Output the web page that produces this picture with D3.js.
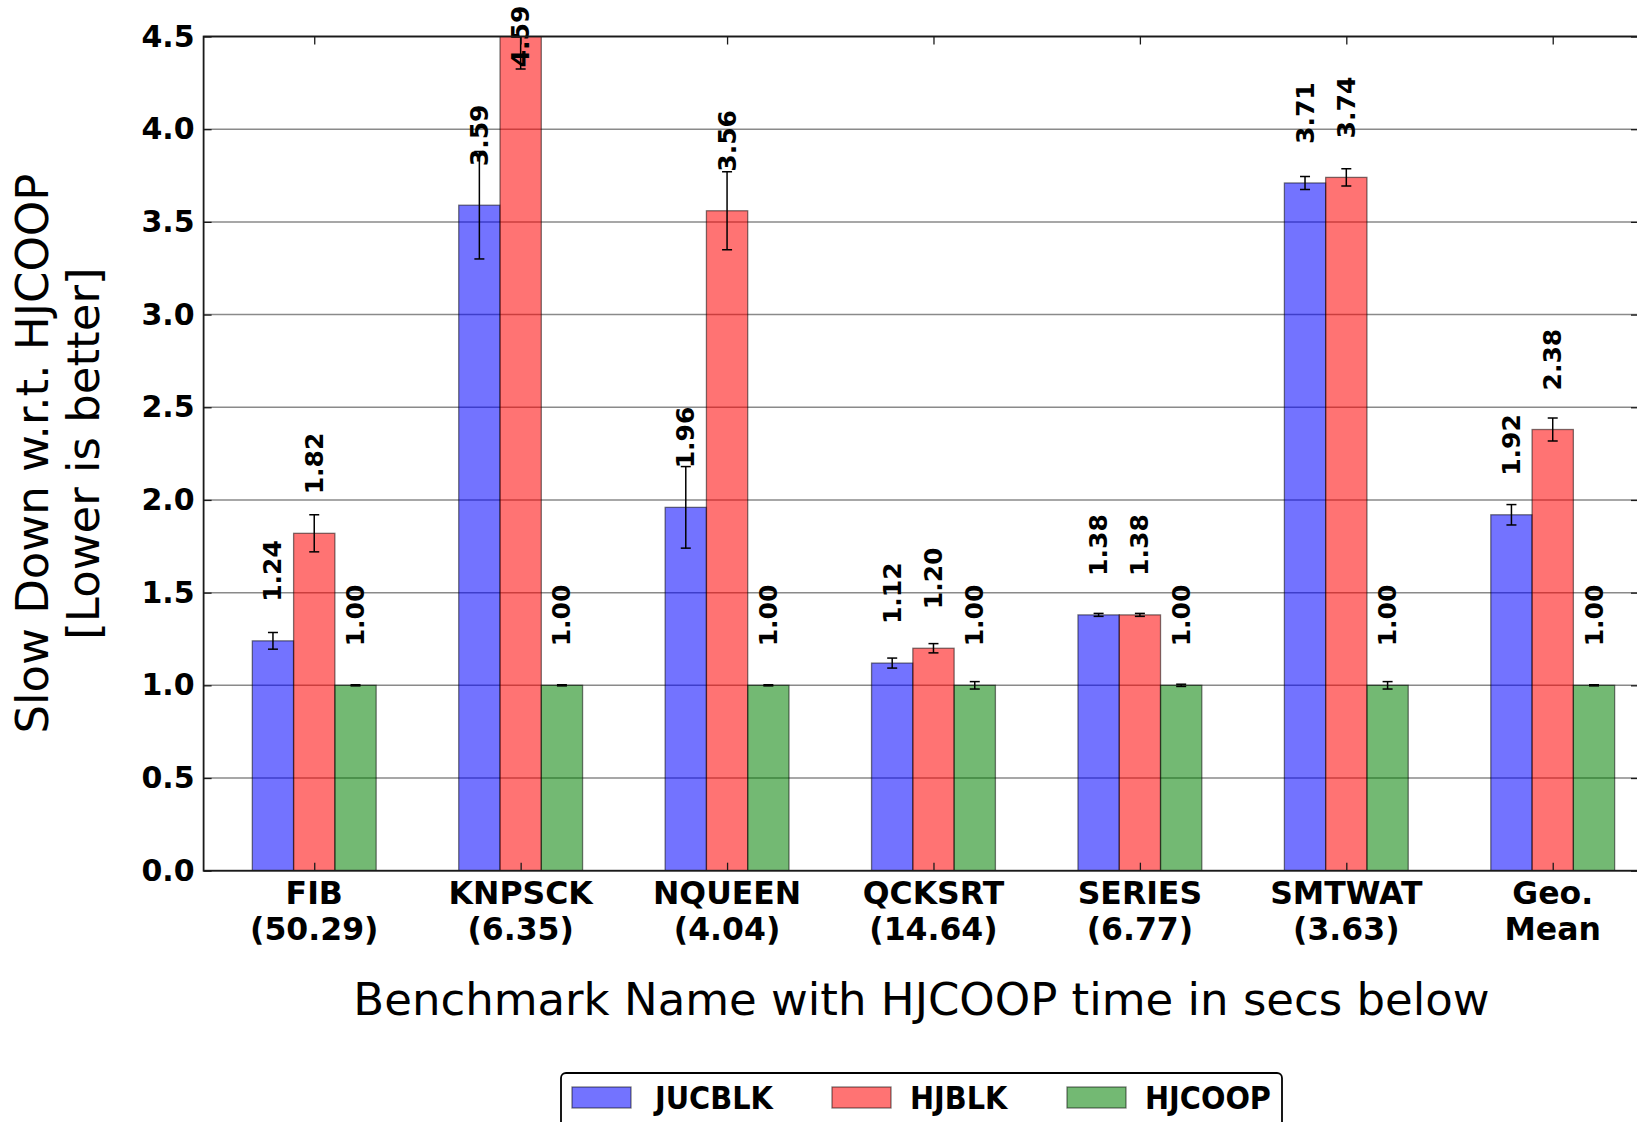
<!DOCTYPE html>
<html><head><meta charset="utf-8">
<script src="https://cdn.jsdelivr.net/npm/d3@7"></script>
<style>body{margin:0;background:#fff}svg{display:block}</style>
</head><body>
<script>
const categories = ["FIB","KNPSCK","NQUEEN","QCKSRT","SERIES","SMTWAT","Geo."];
const subLabels = ["(50.29)","(6.35)","(4.04)","(14.64)","(6.77)","(3.63)","Mean"];
const seriesNames = ["JUCBLK","HJBLK","HJCOOP"];
const jucblk = [1.24,3.59,1.96,1.12,1.38,3.71,1.92];
const hjblk  = [1.82,4.59,3.56,1.20,1.38,3.74,2.38];
const hjcoop = [1.00,1.00,1.00,1.00,1.00,1.00,1.00];
const jucblkErr = [0.045,0.29,0.22,0.027,0.008,0.035,0.055];
const hjblkErr  = [0.10,0.265,0.21,0.025,0.008,0.047,0.062];
const hjcoopErr = [0.003,0.003,0.003,0.02,0.006,0.02,0.003];
const yTicks = [0,0.5,1.0,1.5,2.0,2.5,3.0,3.5,4.0,4.5];
const xLabel = "Benchmark Name with HJCOOP time in secs below";
const yLabel1 = "Slow Down w.r.t. HJCOOP";
const yLabel2 = "[Lower is better]";

(function () {
const W = 1637, H = 1122;
const pL = 203.6, pR = 1639, pT = 36.5, pB = 870.7;
const barW = 0.2;
const colors = ["#0000ff","#ff0000","#008000"];
const values = [jucblk, hjblk, hjcoop];
const errs = [jucblkErr, hjblkErr, hjcoopErr];

const svg = d3.select("body").append("svg").attr("width", W).attr("height", H)
  .style("font-family", "'DejaVu Sans', sans-serif");

const x = d3.scaleLinear().domain([-0.536, 6.418]).range([pL, pR]);
const y = d3.scaleLinear().domain([0, 4.5]).range([pB, pT]);

svg.append("defs").append("clipPath").attr("id","plotclip")
  .append("rect").attr("x", pL).attr("y", pT).attr("width", pR-pL).attr("height", pB-pT);

// grid
svg.append("g").selectAll("line").data(yTicks).join("line")
  .attr("x1", pL).attr("x2", pR)
  .attr("y1", d => y(d)).attr("y2", d => y(d))
  .attr("stroke", "#8a8a8a").attr("stroke-width", 1.5);

// bars
const plot = svg.append("g").attr("clip-path", "url(#plotclip)");
const barData = [];
values.forEach((arr, s) => arr.forEach((v, i) => barData.push({s, i, v, e: errs[s][i]})));
const bx = d => d.i + (d.s - 1.5) * barW;

plot.selectAll("rect.bar").data(barData).join("rect").attr("class","bar")
  .attr("x", d => x(bx(d)))
  .attr("width", d => x(bx(d) + barW) - x(bx(d)))
  .attr("y", d => y(d.v))
  .attr("height", d => y(0) - y(d.v))
  .attr("fill", d => colors[d.s]).attr("fill-opacity", 0.55)
  .attr("stroke", "#000").attr("stroke-opacity", 0.5).attr("stroke-width", 1.3);

// error bars
const eb = plot.selectAll("g.err").data(barData).join("g").attr("class","err");
const cx = d => x(bx(d) + barW/2);
eb.append("line").attr("x1", cx).attr("x2", cx)
  .attr("y1", d => y(d.v - d.e)).attr("y2", d => y(d.v + d.e))
  .attr("stroke", "#000").attr("stroke-width", 1.5);
eb.append("line").attr("x1", d => cx(d)-5).attr("x2", d => cx(d)+5)
  .attr("y1", d => y(d.v - d.e)).attr("y2", d => y(d.v - d.e))
  .attr("stroke", "#000").attr("stroke-width", 1.5);
eb.append("line").attr("x1", d => cx(d)-5).attr("x2", d => cx(d)+5)
  .attr("y1", d => y(d.v + d.e)).attr("y2", d => y(d.v + d.e))
  .attr("stroke", "#000").attr("stroke-width", 1.5);

// value labels
svg.append("g").selectAll("text").data(barData).join("text")
  .attr("transform", d => {
    const yy = d.v > 4.5 ? y(4.5) : y(d.v) - 39;
    return `translate(${cx(d)},${yy}) rotate(-90)`;
  })
  .attr("text-anchor", d => d.v > 4.5 ? "middle" : "start")
  .attr("dominant-baseline", "central")
  .attr("font-weight", "bold").attr("font-size", 25)
  .text(d => d.v.toFixed(2));

// spines
svg.append("rect").attr("x", pL).attr("y", pT).attr("width", pR-pL).attr("height", pB-pT)
  .attr("fill", "none").attr("stroke", "#1a1a1a").attr("stroke-width", 1.8);

// y axes (inward ticks)
const yAxisL = d3.axisLeft(y).tickValues(yTicks).tickFormat(d3.format(".1f")).tickSizeInner(-8).tickSizeOuter(0).tickPadding(9);
const gL = svg.append("g").attr("transform", `translate(${pL},0)`).call(yAxisL);
gL.select(".domain").remove();
gL.selectAll(".tick line").attr("stroke", "#1a1a1a").attr("stroke-width", 1.3);
gL.selectAll(".tick text").attr("font-size", 30).attr("font-weight", "bold")
  .attr("font-family", "'DejaVu Sans', sans-serif").attr("fill", "#000");

const yAxisR = d3.axisRight(y).tickValues(yTicks).tickFormat("").tickSizeInner(-8).tickSizeOuter(0);
const gR = svg.append("g").attr("transform", `translate(${pR},0)`).call(yAxisR);
gR.select(".domain").remove();
gR.selectAll(".tick line").attr("stroke", "#1a1a1a").attr("stroke-width", 1.3);

// x axes (inward ticks)
const catIdx = categories.map((c, i) => i);
const xAxisB = d3.axisBottom(x).tickValues(catIdx).tickFormat("").tickSizeInner(-8).tickSizeOuter(0);
const gB = svg.append("g").attr("transform", `translate(0,${pB})`).call(xAxisB);
gB.select(".domain").remove();
gB.selectAll(".tick line").attr("stroke", "#1a1a1a").attr("stroke-width", 1.3);
const xAxisT = d3.axisTop(x).tickValues(catIdx).tickFormat("").tickSizeInner(-8).tickSizeOuter(0);
const gT = svg.append("g").attr("transform", `translate(0,${pT})`).call(xAxisT);
gT.select(".domain").remove();
gT.selectAll(".tick line").attr("stroke", "#1a1a1a").attr("stroke-width", 1.3);

// x tick labels (two lines)
const xl = svg.append("g").attr("font-weight", "bold").attr("font-size", 31.5).attr("text-anchor", "middle");
xl.selectAll("text.l1").data(categories).join("text").attr("class","l1")
  .attr("x", (d, i) => x(i)).attr("y", 904).text(d => d);
xl.selectAll("text.l2").data(subLabels).join("text").attr("class","l2")
  .attr("x", (d, i) => x(i)).attr("y", 940).text(d => d);

// axis labels
svg.append("text").attr("x", 921.5).attr("y", 1015).attr("text-anchor", "middle")
  .attr("font-size", 45).text(xLabel);
const ylab = svg.append("g").attr("transform", `translate(0,${(pT+pB)/2})`);
ylab.append("text").attr("transform", "translate(48,0) rotate(-90)").attr("text-anchor","middle")
  .attr("font-size", 45).text(yLabel1);
ylab.append("text").attr("transform", "translate(99,0) rotate(-90)").attr("text-anchor","middle")
  .attr("font-size", 45).text(yLabel2);

// legend
const leg = svg.append("g");
leg.append("rect").attr("x", 561).attr("y", 1073).attr("width", 721).attr("height", 70).attr("rx", 5)
  .attr("fill", "#fff").attr("stroke", "#000").attr("stroke-width", 1.8);
const legX = [572, 832, 1067];
const legTX = [655, 910, 1145];
seriesNames.forEach((n, s) => {
  leg.append("rect").attr("x", legX[s]).attr("y", 1087).attr("width", 59).attr("height", 21)
    .attr("fill", colors[s]).attr("fill-opacity", 0.55)
    .attr("stroke", "#000").attr("stroke-opacity", 0.5).attr("stroke-width", 1.3);
  leg.append("text").attr("x", legTX[s]).attr("y", 1097.5).attr("dominant-baseline","central")
    .attr("font-weight", "bold").attr("font-size", 32)
    .style("font-family", "'DejaVu Sans Condensed', 'Liberation Sans Narrow', 'DejaVu Sans', sans-serif")
    .style("font-stretch", "condensed")
    .text(n);
});
})();
</script>
</body></html>
